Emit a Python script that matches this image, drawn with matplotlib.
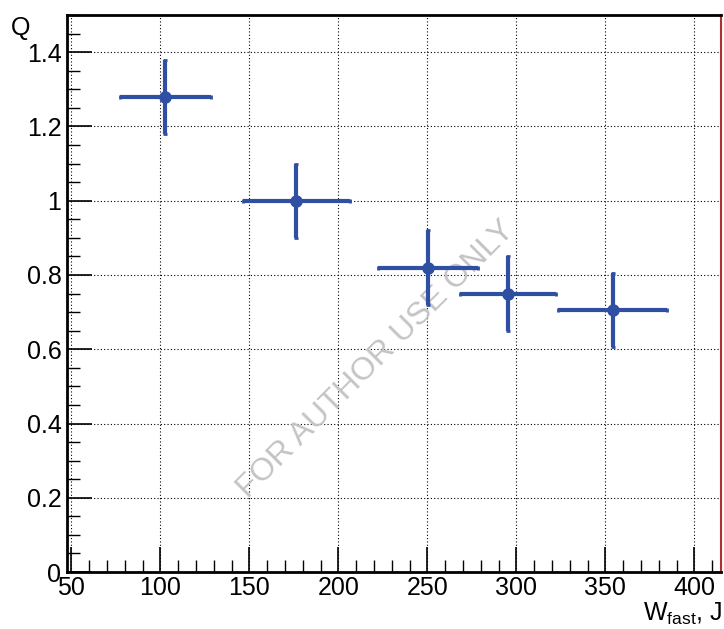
import numpy as np
import matplotlib.pyplot as plt
from matplotlib.ticker import MultipleLocator

plt.rcParams['font.family'] = ['Liberation Sans', 'DejaVu Sans']

# data
w_fast = np.array([102.8, 176.4, 250.4, 295.2, 354.0])
w_err = np.array([25.4, 30.2, 28.3, 26.8, 30.5])
q = np.array([1.28, 1.00, 0.82, 0.75, 0.705])
q_err = np.array([0.10, 0.10, 0.10, 0.10, 0.10])

fig = plt.figure(figsize=(7.24, 6.29), dpi=100)
ax = fig.add_axes([0.0925, 0.0906, 0.9035, 0.8854])

ax.errorbar(w_fast, q, xerr=w_err, yerr=q_err, fmt='o', color='#2f4fa2',
            ms=8, elinewidth=3, capsize=1.5, capthick=2, zorder=3)

ax.set_xlim(47.5, 415)
ax.set_ylim(0, 1.5)
ax.xaxis.set_major_locator(MultipleLocator(50))
ax.xaxis.set_minor_locator(MultipleLocator(10))
ax.yaxis.set_major_locator(MultipleLocator(0.2))
ax.yaxis.set_minor_locator(MultipleLocator(0.05))
ax.set_yticks(np.arange(0, 1.41, 0.2))
ax.set_yticklabels(['0', '0.2', '0.4', '0.6', '0.8', '1', '1.2', '1.4'])

ax.tick_params(which='major', direction='in', length=18, width=1.2,
               labelsize=18, pad=4)
ax.tick_params(which='minor', direction='in', length=9, width=1.0)
ax.tick_params(top=False, right=False, which='both')
ax.tick_params(axis='x', pad=3)

ax.grid(True, which='major', linestyle=(0, (1, 2)), color='black', linewidth=0.8)

for s in ['left', 'bottom', 'top']:
    ax.spines[s].set_linewidth(2)
    ax.spines[s].set_color('black')
ax.spines['right'].set_linewidth(1.5)
ax.spines['right'].set_color('#b03030')

fig.text(0.015, 0.945, 'Q', fontsize=18)
fig.text(0.998, 0.003, r'W$_{\mathregular{fast}}$, J', fontsize=18, ha='right', va='bottom')

ax.text(0.472, 0.382, 'FOR AUTHOR USE ONLY', transform=ax.transAxes,
        rotation=45, fontsize=23, color='#c4c4c4', ha='center', va='center',
        zorder=2)

fig.savefig('out.png', dpi=100)
